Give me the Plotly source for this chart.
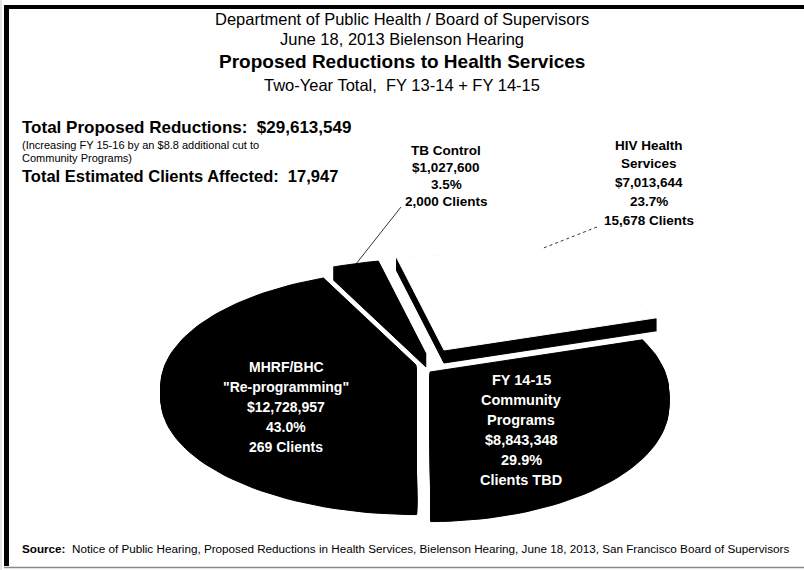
import numpy as np
import plotly.graph_objects as go

# ---------------- data ----------------
slice_names = ["HIV Health Services", "FY 14-15 Community Programs",
               "MHRF/BHC \"Re-programming\"", "TB Control"]
slice_amounts = [7013644, 8843348, 12728957, 1027600]
slice_pcts = [23.7, 29.9, 43.0, 3.5]
slice_clients = ["15,678 Clients", "Clients TBD", "269 Clients", "2,000 Clients"]
slice_label_lines = [
    ["HIV Health", "Services", "$7,013,644", "23.7%", "15,678 Clients"],
    ["FY 14-15", "Community", "Programs", "$8,843,348", "29.9%", "Clients TBD"],
    ["MHRF/BHC", "\"Re-programming\"", "$12,728,957", "43.0%", "269 Clients"],
    ["TB Control", "$1,027,600", "3.5%", "2,000 Clients"],
]
title_lines = ["Department of Public Health / Board of Supervisors",
               "June 18, 2013 Bielenson Hearing",
               "Proposed Reductions to Health Services",
               "Two-Year Total,  FY 13-14 + FY 14-15"]
total_reductions = "$29,613,549"
total_clients = "17,947"
note_lines = ["(Increasing FY 15-16 by an $8.8 additional cut to",
              "Community Programs)"]
source_text = ("Notice of Public Hearing, Proposed Reductions in Health Services, "
               "Bielenson Hearing, June 18, 2013, San Francisco Board of Supervisors")

# ---------------- style ----------------
face_colors = ["white", "black", "black", "black"]
explode = [(20, -12), (6, 10), (-8, 3), (2, -8)]   # screen offsets per slice
CX, CY = 424, 362
RX_L, RX_R, RY = 251, 235, 112
PERSP = 0.18
DEPTH = 13
START_DEG = -12.9   # HIV starts just left of 12 o'clock, slices run clockwise

W, H = 804, 570

fig = go.Figure()

total = float(sum(slice_amounts))
fracs = [a / total for a in slice_amounts]


def proj(theta_deg):
    th = np.radians(theta_deg)
    u = np.sin(th)
    v = -np.cos(th)
    t = -v
    s = 1.0 / (1.0 + PERSP * t)
    rx = np.where(u < 0, RX_L, RX_R)
    return CX + rx * u * s, CY + RY * v * s


faces = []
ang = START_DEG
for i, f in enumerate(fracs):
    a0, a1 = ang, ang + f * 360.0
    ang = a1
    n = max(int(abs(a1 - a0) / 2) + 2, 4)
    th = np.linspace(a0, a1, n)
    ax, ay = proj(th)
    dx, dy = explode[i]
    px = np.concatenate([[CX], ax]) + dx
    py = np.concatenate([[CY], ay]) + dy
    faces.append((px, py))

order = [0, 3, 2, 1]
for i in order:
    px, py = faces[i]
    # extruded body: stacked copies of the face shifted downward
    bx, by = [], []
    for k in np.arange(1.0, DEPTH + 0.01, 1.0):
        bx += list(px) + [px[0], None]
        by += list(py + k) + [py[0] + k, None]
    fig.add_trace(go.Scatter(x=bx, y=by, mode="lines", fill="toself",
                             fillcolor="black", line=dict(width=1, color="black"),
                             hoverinfo="skip", showlegend=False))
    fig.add_trace(go.Scatter(x=list(px) + [px[0]], y=list(py) + [py[0]],
                             mode="lines", fill="toself",
                             fillcolor=face_colors[i],
                             line=dict(width=1, color=face_colors[i]),
                             name=slice_names[i], showlegend=False))

# leader lines
fig.add_trace(go.Scatter(x=[401, 352], y=[207, 269], mode="lines",
                         line=dict(color="black", width=0.8), hoverinfo="skip",
                         showlegend=False))
fig.add_trace(go.Scatter(x=[597, 541], y=[227, 249], mode="lines",
                         line=dict(color="black", width=0.8, dash="dot"),
                         hoverinfo="skip", showlegend=False))

FONT = "Liberation Sans, Arial, sans-serif"
ann = []


def add(text, x, y, size, color="black", bold=False, xanchor="center",
        align="center", yanchor="middle"):
    if bold:
        text = "<b>" + text + "</b>"
    ann.append(dict(text=text, x=x, y=y, xref="x", yref="y", showarrow=False,
                    font=dict(family=FONT, size=size, color=color),
                    xanchor=xanchor, yanchor=yanchor, align=align))


def add_lines(lines, x, y0, dy, size, color="black", bold=True):
    for j, s in enumerate(lines):
        add(s, x, y0 + j * dy, size, color=color, bold=bold)


add(title_lines[0], 402, 19, 16.5)
add(title_lines[1], 402, 39, 16.5)
add(title_lines[2], 402, 61, 19, bold=True)
add(title_lines[3], 402, 85, 16.5)

add("Total Proposed Reductions:  " + total_reductions, 20, 127, 17, bold=True,
    xanchor="left", align="left")
add(note_lines[0], 20, 145, 11, xanchor="left", align="left")
add(note_lines[1], 20, 158, 11, xanchor="left", align="left")
add("Total Estimated Clients Affected:  " + total_clients, 20, 176, 16.5, bold=True,
    xanchor="left", align="left")

# slice labels
add_lines(slice_label_lines[3], 446, 150, 17, 13.5)
add_lines(slice_label_lines[0], 649, 145, 18.8, 13.5)
add_lines(slice_label_lines[2], 286, 367, 20, 14, color="white")
add_lines(slice_label_lines[1], 521, 380, 20, 14.5, color="white")

add("<b>Source:</b>  " + source_text, 20, 548, 11.7, xanchor="left", align="left")

shapes = [
    dict(type="line", xref="x", yref="y", x0=4, x1=804, y0=7, y1=7,
         line=dict(color="black", width=4)),
    dict(type="line", xref="x", yref="y", x0=6.5, x1=6.5, y0=5, y1=566,
         line=dict(color="black", width=5)),
    dict(type="line", xref="x", yref="y", x0=4, x1=804, y0=567.5, y1=567.5,
         line=dict(color="#888888", width=1.5)),
    dict(type="line", xref="x", yref="y", x0=1, x1=1, y0=0, y1=570,
         line=dict(color="#cccccc", width=1)),
]

fig.update_layout(
    width=W, height=H,
    margin=dict(l=0, r=0, t=0, b=0),
    paper_bgcolor="white", plot_bgcolor="white",
    xaxis=dict(range=[0, W], visible=False, fixedrange=True),
    yaxis=dict(range=[H, 0], visible=False, fixedrange=True),
    annotations=ann, shapes=shapes, showlegend=False,
)

fig.write_html("out.html",
               config={"displayModeBar": False},
               post_script="document.body.style.margin='0';"
                           "document.body.style.overflow='hidden';")
